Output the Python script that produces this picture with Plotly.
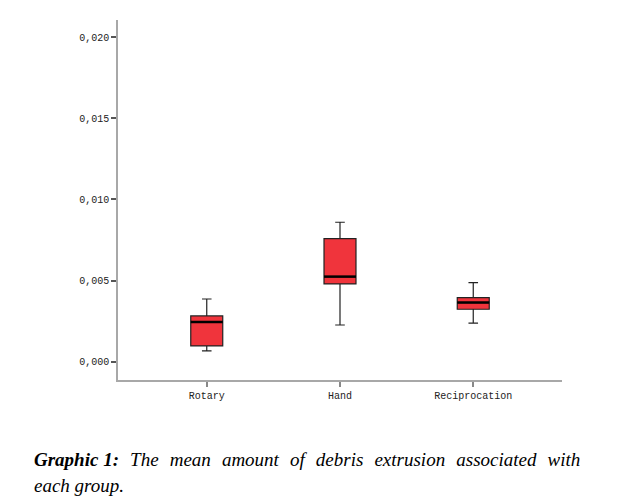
import plotly.graph_objects as go

# groups and box statistics
groups = ["Rotary", "Hand", "Reciprocation"]
lower = [0.00066, 0.00226, 0.00237]
q1 = [0.00097, 0.00479, 0.00323]
median = [0.00245, 0.00524, 0.00364]
q3 = [0.00282, 0.00758, 0.00394]
upper = [0.00386, 0.00859, 0.00487]

y_ticks = [0.0, 0.005, 0.010, 0.015, 0.020]

fig = go.Figure()

fig.add_trace(go.Box(
    x=list(range(len(groups))),
    q1=q1, median=median, q3=q3,
    lowerfence=lower, upperfence=upper,
    fillcolor="#F0343C",
    line=dict(color="#222222", width=1.2),
    width=0.24,
    whiskerwidth=0.3,
    boxpoints=False,
    hoverinfo="skip",
    showlegend=False,
))

# thicker median lines like in the SPSS output
for i, m in enumerate(median):
    fig.add_trace(go.Scatter(
        x=[i - 0.12, i + 0.12], y=[m, m],
        mode="lines", line=dict(color="black", width=2.5),
        showlegend=False, hoverinfo="skip",
    ))

mono = dict(family="Liberation Mono, Courier New, monospace", size=10, color="#222222")

fig.update_xaxes(
    range=[-0.666, 2.666],
    tickvals=list(range(len(groups))), ticktext=groups,
    showline=True, linecolor="#a8a8a8", linewidth=1.5,
    ticks="outside", ticklen=5, tickcolor="#888888", tickwidth=1.5,
    showgrid=False, zeroline=False, tickfont=mono, automargin=False,
)
fig.update_yaxes(
    range=[-0.00113, 0.02105],
    tickvals=y_ticks, tickformat=".3f",
    showline=True, linecolor="#a8a8a8", linewidth=1.5,
    ticks="outside", ticklen=5, tickcolor="#555555", tickwidth=1.5,
    showgrid=False, zeroline=False, tickfont=mono, automargin=False,
)

# caption, spaced out to look justified
serif = "Liberation Serif, Times New Roman, serif"
sp = "&nbsp;&nbsp;&#8202;"
line1 = sp.join(["The", "mean", "amount", "of", "debris", "extrusion", "associated", "with"])
fig.add_annotation(
    text="<b><i>Graphic 1:</i></b><i>" + sp + line1 + "</i>",
    xref="paper", yref="paper", x=-0.194, y=-0.222, xanchor="left", yanchor="middle",
    showarrow=False, font=dict(family=serif, size=19, color="black"),
)
fig.add_annotation(
    text="<i>each group.</i>",
    xref="paper", yref="paper", x=-0.194, y=-0.292, xanchor="left", yanchor="middle",
    showarrow=False, font=dict(family=serif, size=19, color="black"),
)

fig.update_layout(
    width=629, height=504,
    margin=dict(l=110, r=75, t=12, b=132),
    plot_bgcolor="white", paper_bgcolor="white",
    separators=",.",
)

fig.write_html("out.html")
